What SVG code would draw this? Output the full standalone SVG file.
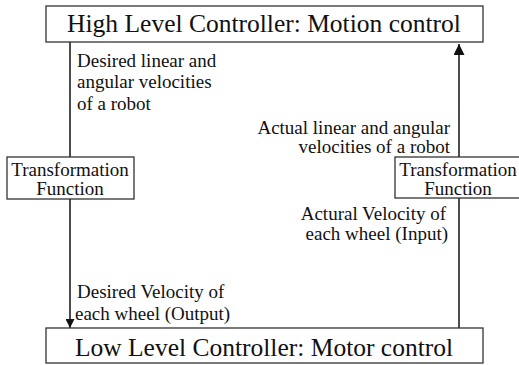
<svg xmlns="http://www.w3.org/2000/svg" width="519" height="365" viewBox="0 0 519 365">
  <style>
    .box { fill: #ffffff; stroke: #333333; stroke-width: 1.3; }
    .title { font-size: 25.5px; fill: #111111; text-anchor: middle; }
    .fn { font-size: 19px; fill: #111111; text-anchor: middle; }
    .lbl { font-size: 19px; fill: #111111; }
    .end { text-anchor: end; }
    .wire { fill: none; stroke: #111111; stroke-width: 1.5; }
  </style>
  <defs>
    <marker id="head" viewBox="0 0 10 10" refX="10" refY="5" markerWidth="10" markerHeight="9" markerUnits="userSpaceOnUse" orient="auto">
      <path d="M0,0 L10,5 L0,10 Z" fill="#111111"/>
    </marker>
    <marker id="headLarge" viewBox="0 0 10 10" refX="10" refY="5" markerWidth="13" markerHeight="11" markerUnits="userSpaceOnUse" orient="auto">
      <path d="M0,0 L10,5 L0,10 Z" fill="#111111"/>
    </marker>
  </defs>
  <rect width="519" height="365" fill="#ffffff"/>

  <g id="connectors">
    <line class="wire" x1="70" y1="42" x2="70" y2="157"/>
    <line class="wire" x1="70" y1="199" x2="70" y2="328" marker-end="url(#head)"/>
    <line class="wire" x1="459" y1="328" x2="459" y2="198"/>
    <line class="wire" x1="459" y1="157" x2="459" y2="44" marker-end="url(#headLarge)"/>
  </g>

  <g font-family="Liberation Serif, Tinos, Times New Roman, Times, serif">
    <g id="high-level">
      <rect class="box" x="46" y="6" width="437" height="36"/>
      <text class="title" x="264" y="32">High Level Controller: Motion control</text>
    </g>

    <g id="low-level">
      <rect class="box" x="46" y="328" width="437" height="35"/>
      <text class="title" x="264" y="356">Low Level Controller: Motor control</text>
    </g>

    <g id="transform-left">
      <rect class="box" x="7" y="157" width="127" height="42"/>
      <text class="fn" x="70" y="176">Transformation</text>
      <text class="fn" x="70" y="195">Function</text>
    </g>

    <g id="transform-right">
      <rect class="box" x="395" y="157" width="130" height="41"/>
      <text class="fn" x="458" y="176">Transformation</text>
      <text class="fn" x="458" y="195">Function</text>
    </g>

    <g id="labels">
      <text class="lbl" x="77" y="67">Desired linear and</text>
      <text class="lbl" x="77" y="88">angular velocities</text>
      <text class="lbl" x="77" y="110">of a robot</text>

      <text class="lbl end" x="450" y="134">Actual linear and angular</text>
      <text class="lbl end" x="450" y="153">velocities of a robot</text>

      <text class="lbl end" x="446" y="220">Actural Velocity of</text>
      <text class="lbl end" x="448" y="240">each wheel (Input)</text>

      <text class="lbl" x="77" y="298">Desired Velocity of</text>
      <text class="lbl" x="75" y="320">each wheel (Output)</text>
    </g>
  </g>
</svg>
